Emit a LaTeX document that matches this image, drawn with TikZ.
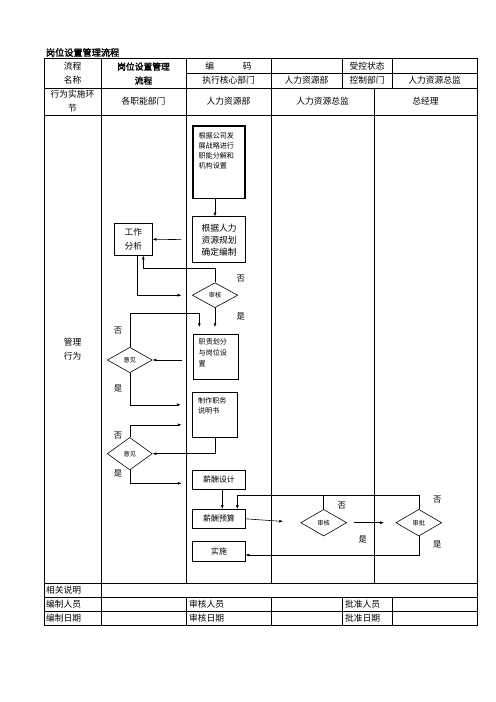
\documentclass[tikz,border=0pt]{standalone}
\usepackage{fontspec}
\setmainfont{Noto Sans CJK SC}
\newfontfamily\heiti[FakeBold=2]{Noto Sans CJK SC}
\usetikzlibrary{shapes.geometric,arrows.meta,calc,positioning}

\tikzset{
	tbl/.style={line width=0.7pt},
	hd/.style={font=\fontsize{10.5}{16.8}\selectfont,align=center},
	box/.style={draw,line width=0.7pt,inner sep=1pt,align=center},
	dia/.style={draw,diamond,aspect=1.8,inner sep=0pt,line width=0.7pt,
		font=\fontsize{7.5}{8}\selectfont},
	arr/.style={line width=0.7pt,-{Latex[length=4.5pt,width=3.5pt]}},
	lnk/.style={line width=0.7pt},
	yn/.style={font=\fontsize{10}{12}\selectfont},
}

\begin{document}
\begin{tikzpicture}[x=1.2pt,y=-1.2pt]
		\useasboundingbox (0,0) rectangle (496,702);
		% table
		\draw[tbl] (44,58) rectangle (477,625);
		\foreach \y in {88,115,583,597,611}{
			\draw[tbl] (44,\y) -- (477,\y);
		}
		\draw[tbl] (186,73) -- (477,73);
		\foreach \x/\ya/\yb in {101/58/625,186/58/583,186/597/625,271/58/583,
			271/597/625,342/58/88,342/597/625,392/58/88,392/597/625,374/88/583}{
			\draw[tbl] (\x,\ya) -- (\x,\yb);
		}
		\node[anchor=west,font=\heiti\fontsize{11}{12}\selectfont] (title) at (43,52.5) {岗位设置管理流程};
		\node[hd] (name) at (72.5,73.5) {流程\\名称};
		\node[hd,font=\heiti\fontsize{10.5}{16.8}\selectfont] (proc) at (143.5,73.5) {岗位设置管理\\流程};
		\node[hd] (stage) at (72.5,101.5) {行为实施环\\节};
		\node[hd] (act) at (72.5,349) {管理\\行为};
		\foreach \t/\x/\y [count=\i] in {{编\hspace{3.3em}码}/228.5/66,受控状态/367/66,
			执行核心部门/228.5/80.5,人力资源部/306.5/80.5,控制部门/367/80.5,
			人力资源总监/434.5/80.5,各职能部门/143.5/101.5,人力资源部/228.5/101.5,
			人力资源总监/322.5/101.5,总经理/425.5/101.5}{
			\node[hd] (h\i) at (\x,\y) {\t};
		}
		\foreach \t/\x/\y [count=\i] in {相关说明/46/590,编制人员/46/604,编制日期/46/618,
			审核人员/189/604,审核日期/189/618,批准人员/345/604,批准日期/345/618}{
			\node[hd,anchor=west,inner xsep=0pt] (f\i) at (\x,\y) {\t};
		}
		% flow
		\node[box,line width=2pt,align=left,text width=49pt,inner xsep=7pt,inner ysep=4pt,
			text height=11pt,text depth=68pt,font=\fontsize{8.5}{12}\selectfont]
			(zl) at (219,162.2) {根据公司发\\展战略进行\\职能分解和\\机构设置};
		\node[box,minimum width=64pt,minimum height=55pt,font=\fontsize{10.5}{14.4}\selectfont]
			(bz) at (219,239.7) {根据人力\\资源规划\\确定编制};
		\node[box,minimum width=45.6pt,minimum height=38.4pt,font=\fontsize{10.5}{16}\selectfont]
			(gzfx) at (133.3,239.3) {工作\\分析};
		\node[dia,minimum width=54.5pt,minimum height=30pt] (sh1) at (215,295.2) {审核};
		\node[box,align=left,text width=41pt,inner xsep=6.5pt,inner ysep=3pt,
			text height=9.5pt,text depth=38.5pt,font=\fontsize{8.5}{13}\selectfont]
			(zz) at (215.8,356.5) {职责划分\\与岗位设\\置};
		\node[dia,minimum width=54pt,minimum height=30.5pt] (yj1) at (129.8,360) {意见};
		\node[box,align=left,text width=41pt,inner xsep=6.5pt,inner ysep=3pt,
			text height=10.5pt,text depth=37.5pt,font=\fontsize{8.5}{12}\selectfont]
			(smz) at (215.2,414.8) {制作职务\\说明书};
		\node[dia,minimum width=54pt,minimum height=39pt] (yj2) at (129.8,453.7) {意见};
		\node[box,minimum width=63pt,minimum height=23pt,font=\fontsize{9.5}{11}\selectfont]
			(xcsj) at (219,479.7) {薪酬设计};
		\node[box,minimum width=63pt,minimum height=23pt,font=\fontsize{9.5}{11}\selectfont]
			(xcys) at (219,518.8) {薪酬预算};
		\node[box,minimum width=63pt,minimum height=24pt,font=\fontsize{9.5}{11}\selectfont]
			(ss) at (219,551.7) {实施};
		\node[dia,minimum width=55pt,minimum height=32pt] (sh2) at (323.7,522.7) {审核};
		\node[dia,minimum width=55pt,minimum height=32pt] (sp) at (418.8,522.7) {审批};
		% connectors
		\draw[arr] (sh1 |- zl.south) -- (sh1 |- bz.north);
		\draw[arr,shorten <=12.7pt] (bz.west) -- (gzfx.east);
		\draw[arr] (sh1.north) -- ++(0,-14) -| ($(gzfx.south)+(10,0)$);
		\draw[arr,shorten >=12.7pt] ($(gzfx.south)+(4,0)$) |- (sh1.west);
		\draw[arr,shorten >=8pt] (sh1.south) -- (sh1 |- zz.north);
		\draw[arr,shorten >=8pt] (yj1.north) |- ($(zz.north)+(-16.5,-20)$) -- ($(zz.north)+(-16.5,0)$);
		\draw[arr,shorten <=13pt] (zz.west |- yj1.east) -- (yj1.east);
		\draw[arr,shorten >=14pt] (yj1.south) |- ($(smz.west)+(0,-10)$);
		\draw[arr] (smz.south) |- (yj2.east);
		\draw[arr,shorten >=13pt] (yj2.north) |- ($(smz.west)+(0,10)$);
		\draw[arr,shorten >=13pt] (yj2.south) |- ($(xcsj.west)+(0,3.6)$);
		\draw[arr] ($(xcsj.south)+(3.3,0)$) -- ($(xcys.north)+(3.3,0)$);
		\draw[arr] (sh2.north) |- ($(xcys.north)+(18.3,-13.3)$) -- ($(xcys.north)+(18.3,0)$);
		\draw[lnk] (sp.north) |- ($(sh2.north)+(0,-13.3)$);
		\draw[arr,shorten >=21pt] (xcys.east) -- (sh2.west);
		\draw[arr,shorten <=8pt,shorten >=14pt] (sh2.east) -- (sp.west);
		\draw[arr] (sp.south) |- ($(ss.east)+(0,3.3)$);
		\foreach \t/\x/\y [count=\i] in {否/240.7/279,是/240.7/317,否/118/330.7,是/118/389,
			否/118/436,是/118/474,否/341.7/506,是/362.7/540,否/437.3/499.3,是/437.3/545}{
			\node[yn] (yn\i) at (\x,\y) {\t};
		}
	\end{tikzpicture}
\end{document}
